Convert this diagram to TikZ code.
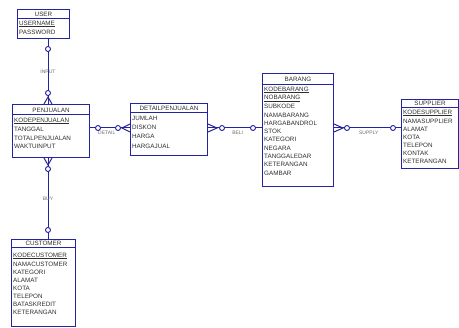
\documentclass[tikz,border=0pt]{standalone}
\usepackage{fontspec}
\setmainfont{Liberation Sans}
\usetikzlibrary{calc}
\definecolor{erblue}{RGB}{36,36,160}
\definecolor{ertext}{RGB}{45,45,45}

\begin{document}
\begin{tikzpicture}[x=1pt, y=-1pt,
  entity/.style={draw=erblue, line width=1pt, rectangle, inner sep=0pt, anchor=north west},
  title/.style={font=\fontsize{6.3}{7}\selectfont, text=ertext, inner sep=0pt},
  attr/.style={font=\fontsize{6.3}{7}\selectfont, text=ertext, inner sep=0pt, anchor=west},
  rel/.style={draw=erblue, line width=1pt},
  ring/.style={circle, draw=erblue, fill=white, line width=0.9pt, inner sep=0pt, minimum size=5pt},
  lbl/.style={font=\fontsize{5}{6}\selectfont, text=ertext!70, inner sep=0pt}]

  \useasboundingbox (0,0) rectangle (459,328);

  % entities
  \node[entity, minimum width=52pt, minimum height=29pt] (user) at (17,9) {};
  \node[entity, minimum width=77pt, minimum height=53pt] (pen)  at (12,104) {};
  \node[entity, minimum width=77pt, minimum height=52pt] (det)  at (130,103) {};
  \node[entity, minimum width=71pt, minimum height=113pt] (bar) at (262,73) {};
  \node[entity, minimum width=57pt, minimum height=69pt] (sup)  at (401,99) {};
  \node[entity, minimum width=64pt, minimum height=87pt] (cust) at (11,239) {};

  % header lines
  \draw[rel] ($(user.north west)+(0,10)$) -- ($(user.north east)+(0,10)$);
  \draw[rel] ($(pen.north west)+(0,11)$) -- ($(pen.north east)+(0,11)$);
  \draw[rel] ($(det.north west)+(0,10)$) -- ($(det.north east)+(0,10)$);
  \draw[rel] ($(bar.north west)+(0,12)$) -- ($(bar.north east)+(0,12)$);
  \draw[rel] ($(sup.north west)+(0,9)$) -- ($(sup.north east)+(0,9)$);
  \draw[rel] ($(cust.north west)+(0,9)$) -- ($(cust.north east)+(0,9)$);

  % names of entities
  \node[title] (user-t) at ($(user.north)+(0,5)$) {USER};
  \node[title] (pen-t)  at ($(pen.north)+(0,6)$) {PENJUALAN};
  \node[title] (det-t)  at ($(det.north)+(0,5)$) {DETAILPENJUALAN};
  \node[title] (bar-t)  at ($(bar.north)+(0,6)$) {BARANG};
  \node[title] (sup-t)  at ($(sup.north)+(0,4.5)$) {SUPPLIER};
  \node[title] (cust-t) at ($(cust.north)+(0,4.5)$) {CUSTOMER};

  % attributes
  \node[attr] (user-1) at ($(user.north west)+(2,15)$) {\underline{USERNAME}};
  \node[attr] (user-2) at ($(user.north west)+(2,23)$) {PASSWORD};

  \node[attr] (pen-1) at ($(pen.north west)+(2,17)$) {\underline{KODEPENJUALAN}};
  \node[attr] (pen-2) at ($(pen.north west)+(2,25.5)$) {TANGGAL};
  \node[attr] (pen-3) at ($(pen.north west)+(2,34)$) {TOTALPENJUALAN};
  \node[attr] (pen-4) at ($(pen.north west)+(2,42.5)$) {WAKTUINPUT};

  \node[attr] (det-1) at ($(det.north west)+(2,15)$) {JUMLAH};
  \node[attr] (det-2) at ($(det.north west)+(2,24.3)$) {DISKON};
  \node[attr] (det-3) at ($(det.north west)+(2,33.6)$) {HARGA};
  \node[attr] (det-4) at ($(det.north west)+(2,43)$) {HARGAJUAL};

  \node[attr] (bar-1)  at ($(bar.north west)+(2,17)$) {\underline{KODEBARANG}};
  \node[attr] (bar-2)  at ($(bar.north west)+(2,25.3)$) {\underline{NOBARANG}};
  \node[attr] (bar-3)  at ($(bar.north west)+(2,33.6)$) {SUBKODE};
  \node[attr] (bar-4)  at ($(bar.north west)+(2,41.9)$) {NAMABARANG};
  \node[attr] (bar-5)  at ($(bar.north west)+(2,50.2)$) {HARGABANDROL};
  \node[attr] (bar-6)  at ($(bar.north west)+(2,58.5)$) {STOK};
  \node[attr] (bar-7)  at ($(bar.north west)+(2,66.8)$) {KATEGORI};
  \node[attr] (bar-8)  at ($(bar.north west)+(2,75.1)$) {NEGARA};
  \node[attr] (bar-9)  at ($(bar.north west)+(2,83.4)$) {TANGGALEDAR};
  \node[attr] (bar-10) at ($(bar.north west)+(2,91.7)$) {KETERANGAN};
  \node[attr] (bar-11) at ($(bar.north west)+(2,100)$) {GAMBAR};

  \node[attr] (sup-1) at ($(sup.north west)+(2,14)$) {\underline{KODESUPPLIER}};
  \node[attr] (sup-2) at ($(sup.north west)+(2,22)$) {NAMASUPPLIER};
  \node[attr] (sup-3) at ($(sup.north west)+(2,30)$) {ALAMAT};
  \node[attr] (sup-4) at ($(sup.north west)+(2,38)$) {KOTA};
  \node[attr] (sup-5) at ($(sup.north west)+(2,46)$) {TELEPON};
  \node[attr] (sup-6) at ($(sup.north west)+(2,54)$) {KONTAK};
  \node[attr] (sup-7) at ($(sup.north west)+(2,62)$) {KETERANGAN};

  \node[attr] (cust-1) at ($(cust.north west)+(2,17)$) {\underline{KODECUSTOMER}};
  \node[attr] (cust-2) at ($(cust.north west)+(2,25)$) {NAMACUSTOMER};
  \node[attr] (cust-3) at ($(cust.north west)+(2,33)$) {KATEGORI};
  \node[attr] (cust-4) at ($(cust.north west)+(2,41)$) {ALAMAT};
  \node[attr] (cust-5) at ($(cust.north west)+(2,49)$) {KOTA};
  \node[attr] (cust-6) at ($(cust.north west)+(2,57)$) {TELEPON};
  \node[attr] (cust-7) at ($(cust.north west)+(2,65)$) {BATASKREDIT};
  \node[attr] (cust-8) at ($(cust.north west)+(2,73)$) {KETERANGAN};

  % relations
  \coordinate (ux) at (48,0);
  \coordinate (dy) at (0,128);

  \draw[rel] (user.south -| ux) to node[lbl] (l-input) {INPUT} (pen.north -| ux);
  \draw[rel] (pen.south -| ux) to node[lbl] (l-buy) {BUY} (cust.north -| ux);
  \draw[rel] (pen.east |- dy) to node[lbl, pos=0.42, below=3pt] (l-detail) {DETAIL} (det.west |- dy);
  \draw[rel] (det.east |- dy) to node[lbl, pos=0.55, below=3pt] (l-beli) {BELI} (bar.west |- dy);
  \draw[rel] (bar.east |- dy) to node[lbl, pos=0.52, below=3pt] (l-supply) {SUPPLY} (sup.west |- dy);

  % crow's feet
  \draw[rel] ($(pen.north -| ux)+(-4,0)$) -- ($(pen.north -| ux)+(0,-7)$) -- ($(pen.north -| ux)+(4,0)$);
  \draw[rel] ($(pen.south -| ux)+(-4,0)$) -- ($(pen.south -| ux)+(0,7)$) -- ($(pen.south -| ux)+(4,0)$);
  \draw[rel] ($(det.west |- dy)+(0,-4)$) -- ($(det.west |- dy)+(-8,0)$) -- ($(det.west |- dy)+(0,4)$);
  \draw[rel] ($(det.east |- dy)+(0,-4)$) -- ($(det.east |- dy)+(9,0)$) -- ($(det.east |- dy)+(0,4)$);
  \draw[rel] ($(bar.east |- dy)+(0,-4)$) -- ($(bar.east |- dy)+(9,0)$) -- ($(bar.east |- dy)+(0,4)$);

  % optional rings
  \node[ring] (r-user)  at ($(user.south -| ux)+(0,10)$) {};
  \node[ring] (r-pen1)  at ($(pen.north -| ux)+(0,-11)$) {};
  \node[ring] (r-pen2)  at ($(pen.south -| ux)+(0,11)$) {};
  \node[ring] (r-cust)  at ($(cust.north -| ux)+(0,-9)$) {};
  \node[ring] (r-pen3)  at ($(pen.east |- dy)+(8,0)$) {};
  \node[ring] (r-det1)  at ($(det.west |- dy)+(-12,0)$) {};
  \node[ring] (r-det2)  at ($(det.east |- dy)+(14,0)$) {};
  \node[ring] (r-bar1)  at ($(bar.west |- dy)+(-9,0)$) {};
  \node[ring] (r-bar2)  at ($(bar.east |- dy)+(13,0)$) {};
  \node[ring] (r-sup)   at ($(sup.west |- dy)+(-8,0)$) {};

\end{tikzpicture}
\end{document}
